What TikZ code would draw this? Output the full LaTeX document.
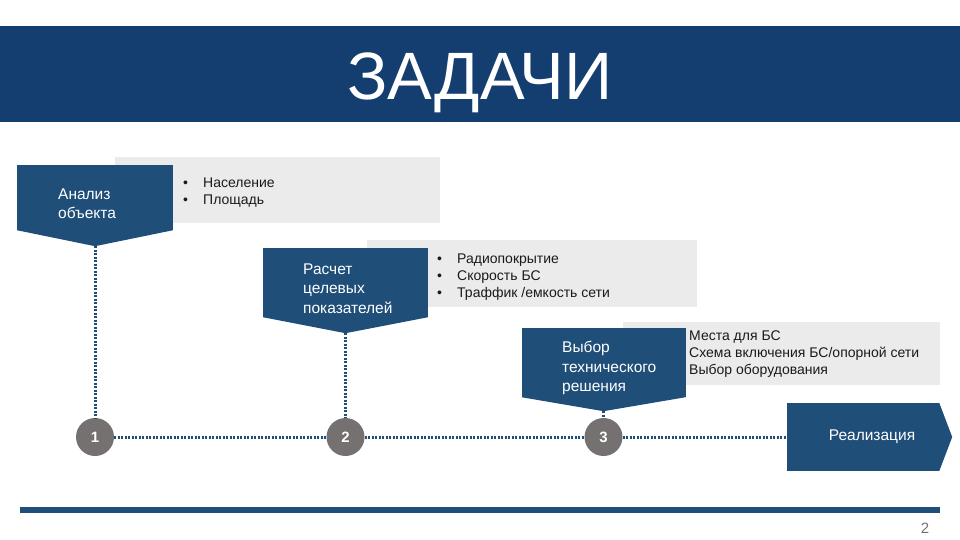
\documentclass[tikz,border=0pt]{standalone}
\usepackage{fontspec}
\setmainfont{Liberation Sans}
\usetikzlibrary{positioning,calc}
\definecolor{Navy}{HTML}{1F4E79}
\definecolor{NavyDark}{HTML}{133E6F}
\definecolor{Panel}{HTML}{EBEBEB}
\definecolor{Stone}{HTML}{767171}
\definecolor{Ink}{HTML}{1A1A1A}

\begin{document}
\begin{tikzpicture}[x=1pt,y=-1pt,
  stepbox/.style={fill=Navy,inner sep=0pt},
  steptext/.style={anchor=west,text=white,align=left,inner sep=0pt,font=\fontsize{15.5}{19.5}\selectfont},
  panel/.style={fill=Panel,inner sep=0pt},
  paneltext/.style={anchor=west,text=Ink,align=left,inner sep=0pt,font=\fontsize{14}{17}\selectfont},
  num/.style={circle,fill=Stone,minimum size=38pt,inner sep=0pt,text=white,font=\fontsize{15}{15}\selectfont\bfseries},
  track/.style={draw=Navy,line width=3pt,dash pattern=on 2pt off 1.5pt}
]
\useasboundingbox (0,0) rectangle (960,540);

% title band
\node[fill=NavyDark,minimum width=960pt,minimum height=96pt,inner sep=0pt] (band) at (480,74) {};
\node[anchor=base,text=white,inner sep=0pt,font=\fontsize{67}{67}\selectfont] (title) at (480,100) {ЗАДАЧИ};

% grey panels behind the steps
\node[panel,minimum width=325pt,minimum height=65pt] (g1) at (277.5,190) {};
\node[panel,minimum width=330pt,minimum height=67pt] (g2) at (532,273.5) {};
\node[panel,minimum width=317pt,minimum height=63pt] (g3) at (781.5,353.5) {};

\node[paneltext] (g1t) at (183,192.5) {\makebox[20pt][l]{•}Население\\\makebox[20pt][l]{•}Площадь};
\node[paneltext] (g2t) at (437,277) {\makebox[20pt][l]{•}Радиопокрытие\\\makebox[20pt][l]{•}Скорость БС\\\makebox[20pt][l]{•}Траффик /емкость сети};
\node[paneltext] (g3t) at (689,354) {Места для БС\\Схема включения БС/опорной сети\\Выбор оборудования};

% steps
\node[stepbox,minimum width=156pt,minimum height=65pt] (s1) at (95,197.5) {};
\fill[Navy] (s1.south west) -- (s1.south east) -- ($(s1.south)+(0,16)$) coordinate (s1tip) -- cycle;
\node[steptext] (s1t) at (58,203.5) {Анализ\\объекта};

\node[stepbox,minimum width=165pt,minimum height=69pt] (s2) at (345.5,282.5) {};
\fill[Navy] (s2.south west) -- (s2.south east) -- ($(s2.south)+(0,16)$) coordinate (s2tip) -- cycle;
\node[steptext] (s2t) at (303,288.5) {Расчет\\целевых\\показателей};

\node[stepbox,minimum width=164pt,minimum height=69pt] (s3) at (603.5,362.5) {};
\fill[Navy] (s3.south west) -- (s3.south east) -- ($(s3.south)+(0,14)$) coordinate (s3tip) -- cycle;
\node[steptext] (s3t) at (562,368) {Выбор\\технического\\решения};

% milestones
\node[num] (c1) at (95,437) {1};
\node[num] (c2) at (345.5,437) {2};
\node[num] (c3) at (603.5,437) {3};

\node[stepbox,minimum width=152pt,minimum height=68pt,text=white,
  font=\fontsize{15.5}{15.5}\selectfont] (real) at (863,437) {\raisebox{-2pt}{\hspace*{18pt}Реализация}};
\fill[Navy] (real.north east) -- ($(real.east)+(13,0)$) -- (real.south east) -- cycle;

\draw[track] (s1tip) -- (c1);
\draw[track] (s2tip) -- (c2);
\draw[track] (s3tip) -- (c3);
\draw[track] (c1) -- (c2);
\draw[track] (c2) -- (c3);
\draw[track] (c3) -- (real);

% footer
\draw[Navy,line width=6pt] (20,510) -- (940,510);
\node[text=Stone,font=\fontsize{15}{15}\selectfont,inner sep=0pt] (page) at (925,528) {2};
\end{tikzpicture}
\end{document}
